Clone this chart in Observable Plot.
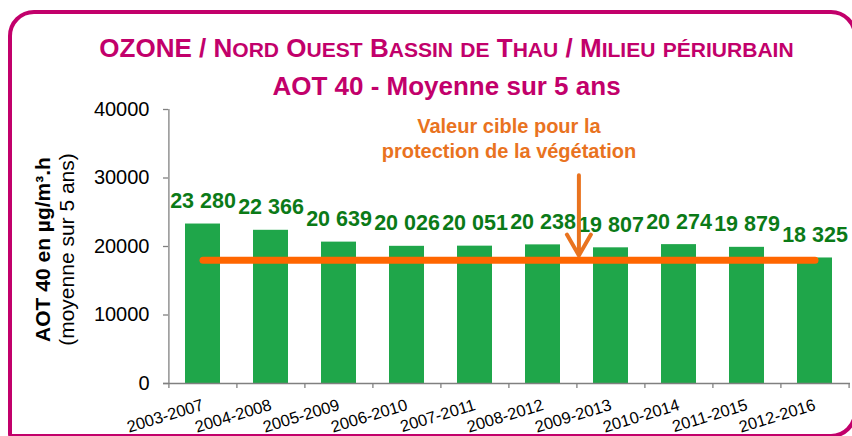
<!DOCTYPE html>
<html>
<head>
<meta charset="utf-8">
<script src="https://cdn.jsdelivr.net/npm/d3@7"></script>
<script src="https://cdn.jsdelivr.net/npm/@observablehq/plot@0.6"></script>
<style>
  html, body { margin: 0; padding: 0; background: #fff; }
  #wrap { position: relative; width: 852px; height: 436px; overflow: hidden; }
  #wrap svg { position: absolute; left: 0; top: 0; }
  #border { position: absolute; left: 7.5px; top: 10px; width: 849px; height: 428px;
            border: 4px solid #c2006b; border-radius: 26px 26px 26px 4px; box-sizing: border-box; }
  #title { position: absolute; left: 0; top: 30px; width: 893px; text-align: center;
           font-family: "Liberation Sans", Arial, sans-serif; font-weight: bold; font-size: 26px;
           line-height: 36px; color: #c2006b; z-index: 2; }
  #title .sc { font-size: 0.81em; }
</style>
</head>
<body>
<div id="wrap"><div id="border"></div><div id="title"></div></div>
<script>
// ---- data ----
const periods = ["2003-2007","2004-2008","2005-2009","2006-2010","2007-2011",
                 "2008-2012","2009-2013","2010-2014","2011-2015","2012-2016"];
const aot40 = [23280, 22366, 20639, 20026, 20051, 20238, 19807, 20274, 19879, 18325];
const targetValue = 18000;
const yTicks = [0, 10000, 20000, 30000, 40000];
const titleLine1 = "OZONE / Nord Ouest Bassin de Thau / Milieu périurbain";
const titleLine2 = "AOT 40 - Moyenne sur 5 ans";
const yTitle1 = "AOT 40 en µg/m³.h";
const yTitle2 = "(moyenne sur 5 ans)";
const annotation = "Valeur cible pour la\nprotection de la végétation";
const arrowPeriod = "2009-2013";   // arrow drawn at the left edge of this period
const annotationPeriod = "2008-2012";
const arrowTop = 30400, arrowTip = 18700, annotationBase = 32900;

// ---- title (small caps rendered as upper case letters at a reduced size) ----
(function () {
  const el = document.getElementById("title");
  const l1 = document.createElement("div");
  titleLine1.split(/(\s+)/).forEach(tok => {
    if (/^\s+$/.test(tok) || tok === "/" || tok === tok.toUpperCase()) {
      l1.appendChild(document.createTextNode(tok));
      return;
    }
    const first = tok[0], rest = tok.slice(1);
    if (first === first.toUpperCase()) l1.appendChild(document.createTextNode(first));
    const s = document.createElement("span");
    s.className = "sc";
    s.textContent = (first === first.toUpperCase() ? rest : tok).toUpperCase();
    l1.appendChild(s);
  });
  const l2 = document.createElement("div");
  l2.textContent = titleLine2;
  el.appendChild(l1); el.appendChild(l2);
})();

// ---- layout ----
const W = 852, H = 436, mL = 168, mR = 2, mT = 109, mB = 53;
const step = (W - mL - mR) / periods.length;

const rows = periods.map((p, i) => ({period: p, value: aot40[i]}));
const fr = d3.formatLocale({decimal: ",", thousands: " ", grouping: [3], currency: ["", " €"]}).format(",d");

const green = "#1fa64a", dgreen = "#0b7a17", orange = "#ff6600", orangeTxt = "#e9731f";

const chart = Plot.plot({
  width: W, height: H,
  marginLeft: mL, marginRight: mR, marginTop: mT, marginBottom: mB,
  style: {fontFamily: "'Liberation Sans', Arial, sans-serif", background: "transparent", color: "black"},
  x: {domain: periods, paddingInner: 0.48, paddingOuter: 0.24, label: null},
  y: {domain: [0, 40000], label: null},
  marks: [
    Plot.barY(rows, {x: "period", y: "value", fill: green}),
    // axes lines
    Plot.ruleY([0], {stroke: "#808080", strokeWidth: 1.3, insetLeft: -5}),
    Plot.ruleX([periods[0]], {dx: -step / 2, y1: 0, y2: 40000, stroke: "#808080", strokeWidth: 1.3}),
    Plot.ruleX(periods, {dx: -step / 2, y1: 0, y2: 0, insetBottom: -5, stroke: "#808080", strokeWidth: 1.3}),
    Plot.ruleX([periods[periods.length - 1]], {dx: step / 2, y1: 0, y2: 0, insetBottom: -5, stroke: "#808080", strokeWidth: 1.3}),
    Plot.axisY({ticks: yTicks, tickFormat: d => String(d), tickSize: 5, tickPadding: 14,
                fontSize: 20, stroke: "#808080", strokeWidth: 1.3, label: null}),
    Plot.axisX({tickSize: 0, tickRotate: -17, fontSize: 16.5, tickPadding: 21, label: null}),
    // value labels
    Plot.text(rows, {x: "period", y: "value", text: d => fr(d.value), dy: -16, lineAnchor: "bottom",
                     fill: dgreen, fontWeight: "bold", fontSize: 21.5}),
    // target line
    Plot.lineY(periods, {x: d => d, y: () => targetValue, stroke: orange, strokeWidth: 7, strokeLinecap: "round"}),
    // annotation
    Plot.text([annotation], {x: () => annotationPeriod, y: () => annotationBase, dx: -step / 2, lineAnchor: "bottom",
                             lineHeight: 1.25, fill: orangeTxt, fontWeight: "bold", fontSize: 20}),
    Plot.arrow([arrowPeriod], {x1: d => d, x2: d => d, y1: () => arrowTop, y2: () => arrowTip, dx: -step / 2 + 2,
                               stroke: orangeTxt, strokeWidth: 4, headLength: 9, headAngle: 60, bend: 0}),
    // y title
    Plot.text([yTitle1], {frameAnchor: "left", dx: 43 - mL, dy: 3, rotate: -90, lineAnchor: "middle", textAnchor: "middle",
                          fontWeight: "bold", fontSize: 21, fill: "black"}),
    Plot.text([yTitle2], {frameAnchor: "left", dx: 67 - mL, dy: 3, rotate: -90, lineAnchor: "middle", textAnchor: "middle",
                          fontSize: 21, fill: "black"})
  ]
});
document.getElementById("wrap").appendChild(chart);
</script>
</body>
</html>
